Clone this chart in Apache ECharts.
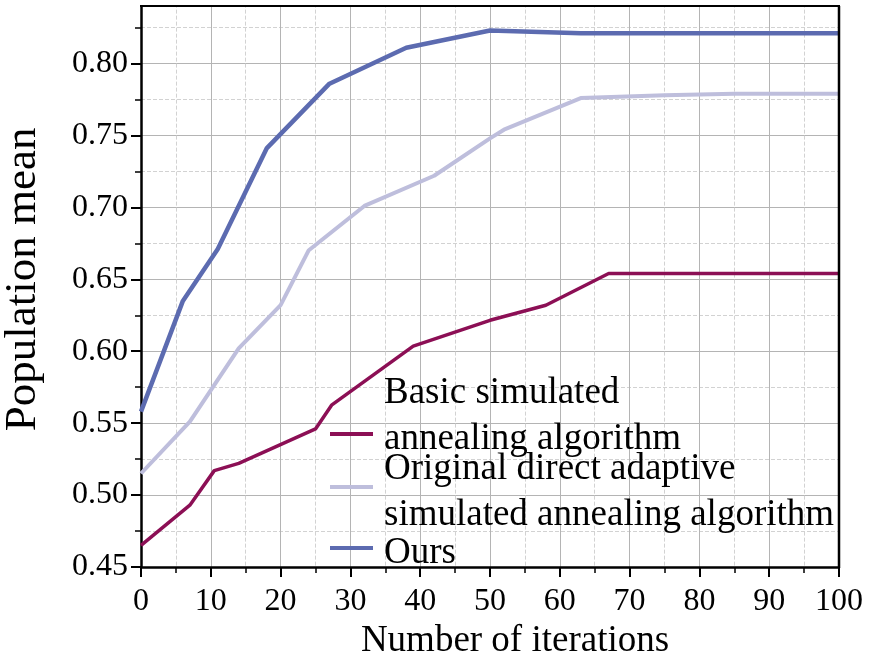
<!DOCTYPE html>
<html><head><meta charset="utf-8">
<script src="https://cdn.jsdelivr.net/npm/echarts@6/dist/echarts.min.js"></script>
<style>html,body{margin:0;padding:0;background:#fff}#c{width:869px;height:659px}</style>
</head><body><div id="c"></div>
<script>
const seriesNames = ['Basic simulated\nannealing algorithm', 'Original direct adaptive\nsimulated annealing algorithm', 'Ours'];
const basicX = [0, 7, 10.5, 14, 25, 27.3, 39, 50, 58, 67, 100];
const basicY = [0.465, 0.493, 0.517, 0.522, 0.546, 0.5625, 0.6035, 0.6215, 0.632, 0.654, 0.654];
const origX = [0, 7, 14, 20, 24, 32, 42, 50, 52, 63, 75, 85, 100];
const origY = [0.515, 0.551, 0.602, 0.632, 0.670, 0.701, 0.722, 0.748, 0.754, 0.776, 0.778, 0.779, 0.779];
const oursX = [0, 6, 11, 18, 27, 38, 50, 63, 100];
const oursY = [0.558, 0.635, 0.671, 0.741, 0.786, 0.811, 0.823, 0.821, 0.821];
const yMajor = [0.45, 0.50, 0.55, 0.60, 0.65, 0.70, 0.75, 0.80];
const colors = ['#8C0F55', '#BEBEDC', '#5C6BB0'];

const FONT = 'Liberation Serif';
const pairs = (xs, ys) => xs.map((x, i) => [x, ys[i]]);

// layout: the visible frame top is at y=6 (value 0.84); the scale runs to 0.85
const W = 869, H = 659, L = 141, R = 839, B = 567, T = 6;
const pxPerUnit = (B - T) / (0.84 - 0.45);
const gridTop = T - (0.85 - 0.84) * pxPerUnit;

const legendText = (n, extraLine) =>
  '{s| }\n' + n.split('\n').map(s => '{t|' + s + '}').join('\n') + (extraLine ? '\n{t| }' : '');

const chart = echarts.init(document.getElementById('c'), null, {renderer: 'canvas'});
const legendBase = {
  orient: 'vertical', padding: 0, itemWidth: 43, itemHeight: 4, icon: 'rect',
  left: 330, selectedMode: false,
  textStyle: {
    fontFamily: FONT, fontSize: 37, color: '#000', padding: [0, 0, 0, 6],
    rich: {
      t: {fontFamily: FONT, fontSize: 37, lineHeight: 46, color: '#000'},
      s: {fontFamily: FONT, fontSize: 1, lineHeight: 10, height: 10}
    }
  }
};
chart.setOption({
  animation: false,
  backgroundColor: '#fff',
  grid: {left: L, right: W - R, top: gridTop, bottom: H - B, show: false, outerBoundsMode: 'none', containLabel: false},
  legend: [
    Object.assign({}, legendBase, {data: [seriesNames[0]], top: 360, formatter: n => legendText(n, true)}),
    Object.assign({}, legendBase, {data: [seriesNames[1]], top: 436, formatter: n => legendText(n, false)}),
    Object.assign({}, legendBase, {data: [seriesNames[2]], top: 520, formatter: n => legendText(n, false)})
  ],
  xAxis: {
    type: 'value', min: 0, max: 100, interval: 10, position: 'bottom',
    axisLine: {show: true, onZero: false, lineStyle: {color: '#000', width: 2.5}},
    axisTick: {show: true, length: 10, lineStyle: {color: '#000', width: 2}},
    minorTick: {show: true, splitNumber: 2, length: 6, lineStyle: {color: '#000', width: 1.5}},
    splitLine: {show: true, lineStyle: {color: '#b4b4b4', width: 1}},
    minorSplitLine: {show: true, lineStyle: {color: '#d2d2d2', width: 1, type: 'dashed'}},
    axisLabel: {fontFamily: FONT, fontSize: 32, color: '#000', margin: 19},
    name: 'Number of iterations', nameLocation: 'middle', nameGap: 47,
    nameTextStyle: {fontFamily: FONT, fontSize: 37, color: '#000', padding: [0, 0, 0, 50]}
  },
  yAxis: {
    type: 'value', min: 0.45, max: 0.85, interval: 0.05, position: 'left',
    axisLine: {show: true, onZero: false, lineStyle: {color: '#000', width: 2.5}},
    axisTick: {show: true, length: 10, customValues: yMajor, lineStyle: {color: '#000', width: 2}},
    minorTick: {show: true, splitNumber: 2, length: 6, lineStyle: {color: '#000', width: 1.5}},
    splitLine: {show: true, lineStyle: {color: '#b4b4b4', width: 1}},
    minorSplitLine: {show: true, lineStyle: {color: '#d2d2d2', width: 1, type: 'dashed'}},
    axisLabel: {fontFamily: FONT, fontSize: 32, color: '#000', margin: 13, customValues: yMajor,
      formatter: v => v.toFixed(2)},
    name: 'Population mean', nameLocation: 'middle', nameGap: 95,
    nameTextStyle: {fontFamily: FONT, fontSize: 45, color: '#000'}
  },
  graphic: [
    {type: 'rect', z: 100, shape: {x: 0, y: 0, width: W, height: T - 1}, style: {fill: '#fff'}, silent: true},
    {type: 'line', z: 101, shape: {x1: L - 1, y1: T, x2: R + 1, y2: T}, style: {stroke: '#000', lineWidth: 2}, silent: true},
    {type: 'line', z: 101, shape: {x1: R, y1: T, x2: R, y2: B}, style: {stroke: '#000', lineWidth: 2.5}, silent: true}
  ],
  series: [
    {name: seriesNames[0], type: 'line', data: pairs(basicX, basicY), showSymbol: false, symbol: 'none',
      lineStyle: {color: colors[0], width: 3.5}, itemStyle: {color: colors[0]}, z: 3},
    {name: seriesNames[1], type: 'line', data: pairs(origX, origY), showSymbol: false, symbol: 'none',
      lineStyle: {color: colors[1], width: 4}, itemStyle: {color: colors[1]}, z: 2},
    {name: seriesNames[2], type: 'line', data: pairs(oursX, oursY), showSymbol: false, symbol: 'none',
      lineStyle: {color: colors[2], width: 4.5}, itemStyle: {color: colors[2]}, z: 4}
  ]
});
</script></body></html>
